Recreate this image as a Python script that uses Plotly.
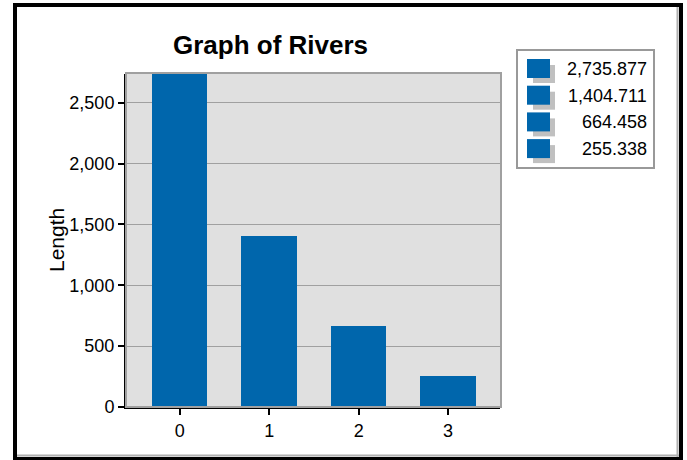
import plotly.graph_objects as go

# ---- data ----
categories = [0, 1, 2, 3]
lengths = [2735.877, 1404.711, 664.458, 255.338]
y_ticks = [0, 500, 1000, 1500, 2000, 2500]
title_text = "Graph of Rivers"
y_title = "Length"

W, H = 687, 460
L, R, T, B = 126, 500, 74, 407  # plot area in pixels
FONT = "Liberation Sans, Arial, sans-serif"
BLUE = "#0066AC"


def px(x):
    return (x - L) / (R - L)


def py(y):
    return (B - y) / (B - T)


fig = go.Figure()
fig.add_trace(go.Bar(
    x=categories, y=lengths, width=0.62,
    marker=dict(color=BLUE, line=dict(width=0)),
    showlegend=False, hoverinfo="x+y",
))

shapes = []
# plot-area grey border (top/right)
shapes.append(dict(type="rect", xref="paper", yref="paper", x0=0, x1=px(R + 1), y0=0, y1=py(T - 1),
                   line=dict(color="#A0A0A0", width=2), layer="above"))
# outer frame
shapes.append(dict(type="line", xref="paper", yref="paper", x0=px(677.5), x1=px(677.5), y0=py(7), y1=py(457),
                   line=dict(color="#B0B0B0", width=2)))
shapes.append(dict(type="line", xref="paper", yref="paper", x0=px(17), x1=px(679), y0=py(455.5), y1=py(455.5),
                   line=dict(color="#B0B0B0", width=2)))
shapes.append(dict(type="rect", xref="paper", yref="paper", x0=px(15), x1=px(681), y0=py(459), y1=py(5),
                   line=dict(color="black", width=4)))
# legend box
shapes.append(dict(type="rect", xref="paper", yref="paper", x0=px(517), x1=px(654), y0=py(168), y1=py(50),
                   line=dict(color="#999999", width=2), fillcolor="white"))

annotations = []
row_h = 26.7
for i, v in enumerate(lengths):
    top = 59 + i * row_h
    shapes.append(dict(type="rect", xref="paper", yref="paper", x0=px(533), x1=px(555), y0=py(top + 24), y1=py(top + 6),
                       line=dict(width=0), fillcolor="#C0C0C0"))
    shapes.append(dict(type="rect", xref="paper", yref="paper", x0=px(527), x1=px(550), y0=py(top + 19), y1=py(top),
                       line=dict(width=0), fillcolor=BLUE))
    annotations.append(dict(xref="paper", yref="paper", x=px(649), y=py(top + 10), text=f"{v:,.3f}",
                            showarrow=False, xanchor="right", yanchor="middle",
                            font=dict(family=FONT, size=18, color="black")))

annotations.append(dict(xref="paper", yref="paper", x=px(270), y=py(45), text=f"<b>{title_text}</b>",
                        showarrow=False, xanchor="center", yanchor="middle",
                        font=dict(family=FONT, size=26, color="black")))
annotations.append(dict(xref="paper", yref="paper", x=px(56), y=py(240), text=y_title, textangle=-90,
                        showarrow=False, xanchor="center", yanchor="middle",
                        font=dict(family=FONT, size=21, color="black")))

fig.update_layout(
    width=W, height=H,
    margin=dict(l=L, r=W - R, t=T, b=H - B, pad=0),
    paper_bgcolor="white", plot_bgcolor="#E0E0E0",
    font=dict(family=FONT, size=18, color="black"),
    shapes=shapes, annotations=annotations,
    bargap=0,
    xaxis=dict(range=[-0.6, 3.58], tickmode="array", tickvals=categories, ticktext=[str(c) for c in categories],
               showgrid=False, zeroline=False, showline=True, linecolor="black", linewidth=2,
               ticks="outside", ticklen=6, tickwidth=2, tickcolor="black",
               tickfont=dict(family=FONT, size=18)),
    yaxis=dict(range=[0, max(lengths)], tickmode="array", tickvals=y_ticks, ticktext=[f"{t:,}" for t in y_ticks],
               showgrid=True, gridcolor="#A0A0A0", gridwidth=1, zeroline=False,
               showline=True, linecolor="black", linewidth=2,
               ticks="outside", ticklen=6, tickwidth=2, tickcolor="black",
               tickfont=dict(family=FONT, size=18)),
)

fig.write_html(
    "out.html",
    config={"displayModeBar": False},
    post_script="document.body.style.margin='0';document.body.style.overflow='hidden';",
)
